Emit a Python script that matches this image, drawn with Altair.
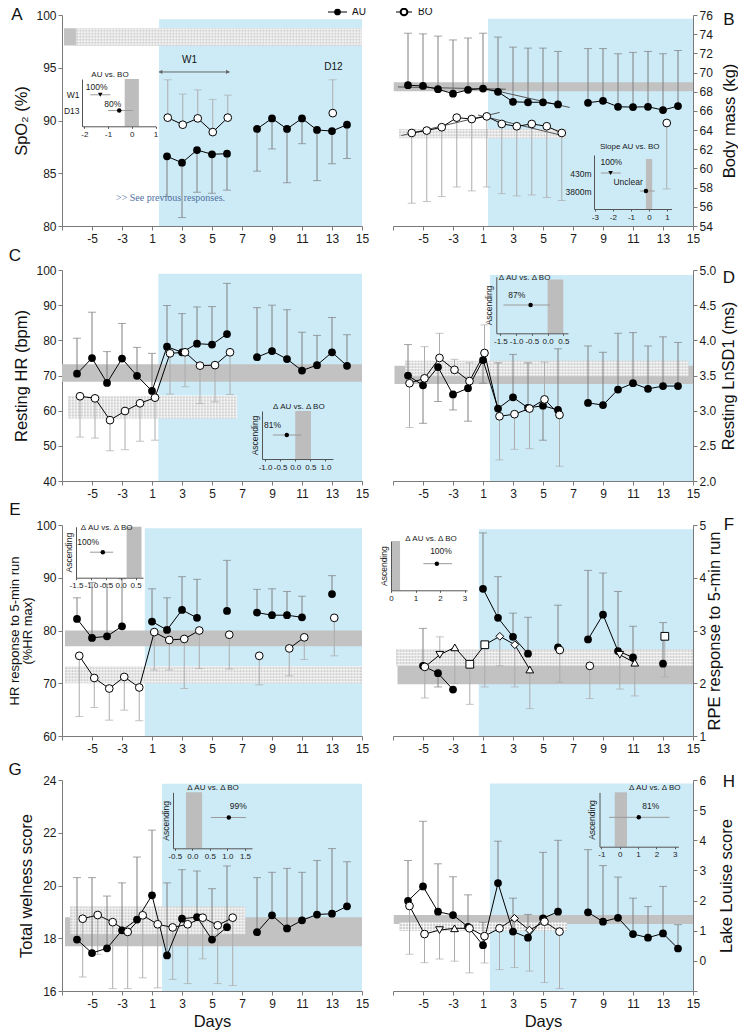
import altair as alt
import numpy as np
import pandas as pd

FONT = "Liberation Sans"
W, H = 300, 211
BLUE = "#cdebf7"
AU_BAND = "#c2c2c2"
BO_BAND = "#d0d0d0"
AU_ERR = "#7f7f7f"
BO_ERR = "#acacac"
AXC = "#7a7a7a"
LAB = "#1a1a1a"

X_TICKS = [-7, -5, -3, -1, 1, 3, 5, 7, 9, 11, 13]
XLABEL = "datum.value == -7 ? '' : '' + (datum.value >= -1 ? datum.value + 2 : datum.value)"

# ---------------- data (days as labelled on the axis) ----------------
A_au_day = [2, 3, 4, 5, 6, 8, 9, 10, 11, 12, 13, 14]
A_au_val = [86.6, 86.0, 87.2, 86.8, 86.85, 89.2, 90.2, 89.2, 90.2, 89.1, 89.0, 89.6]
A_au_err = [82.8, 80.8, 83.2, 83.1, 83.4, 85.2, 87.3, 84.1, 87.8, 84.3, 85.9, 86.4]
A_au_seg = [1, 1, 1, 1, 1, 2, 2, 2, 2, 2, 2, 2]
A_bo_day = [2, 3, 4, 5, 6, 13]
A_bo_val = [90.27, 89.6, 90.2, 88.9, 90.27, 90.7]
A_bo_err = [93.86, 92.5, 92.9, 92.0, 92.4, 93.86]
A_bo_seg = [1, 1, 1, 1, 1, 2]

B_au_day = [-6, -5, -4, -3, -2, 1, 2, 3, 4, 5, 6, 8, 9, 10, 11, 12, 13, 14]
B_au_val = [68.68, 68.6, 68.26, 67.8, 68.2, 68.33, 67.99, 66.95, 66.9, 66.9, 66.67, 66.85, 67.05, 66.43, 66.4, 66.43, 66.09, 66.5]
B_au_err = [74.1, 74.03, 73.8, 73.4, 73.6, 74.1, 73.7, 72.65, 72.55, 72.55, 72.2, 72.5, 72.5, 71.96, 72.1, 72.2, 71.96, 72.3]
B_au_seg = [1] * 11 + [2] * 7
B_bo_day = [-6, -5, -4, -3, -2, 1, 2, 3, 4, 5, 6, 13]
B_bo_val = [63.7, 63.95, 64.3, 65.3, 65.15, 65.43, 64.64, 64.4, 64.64, 64.4, 63.7, 64.74]
B_bo_err = [56.38, 56.55, 57.07, 58.07, 57.66, 58.07, 57.38, 57.14, 57.24, 56.97, 56.66, 57.87]
B_bo_seg = [1] * 11 + [2]
# regression lines (axis positions)
B_slope_x0 = [-6.67, -0.78, -6.44, -1.33]
B_slope_y0 = [68.5, 68.33, 63.43, 65.57]
B_slope_x1 = [0.51, 4.78, 0.11, 4.11]
B_slope_y1 = [68.26, 66.36, 65.84, 63.5]

C_au_day = [-6, -5, -4, -3, -2, 1, 2, 3, 4, 5, 6, 8, 9, 10, 11, 12, 13, 14]
C_au_val = [70.5, 74.95, 67.9, 74.8, 69.9, 65.6, 78.2, 76.6, 79.05, 78.8, 81.8, 75.2, 76.95, 74.66, 71.4, 72.95, 76.6, 72.76]
C_au_err = [80.6, 88.0, 76.8, 84.8, 78.0, 76.3, 89.9, 87.6, 89.5, 89.6, 96.2, 89.3, 90.0, 88.7, 82.3, 81.4, 86.5, 81.6]
C_au_seg = [1] * 11 + [2] * 7
C_bo_day = [-6, -5, -4, -3, -2, 1, 2, 3, 4, 5, 6]
C_bo_val = [64.1, 63.5, 57.3, 59.9, 62.1, 63.7, 76.3, 76.6, 72.8, 72.95, 76.6]
C_bo_err = [52.5, 52.2, 48.6, 48.9, 51.3, 51.6, 64.7, 66.8, 62.0, 62.5, 64.6]
C_bo_seg = [1] * 11

D_au_day = [-6, -5, -4, -3, -2, 1, 2, 3, 4, 5, 6, 8, 9, 10, 11, 12, 13, 14]
D_au_val = [3.50, 3.36, 3.62, 3.23, 3.32, 3.72, 3.03, 3.19, 3.04, 3.07, 3.01, 3.11, 3.08, 3.30, 3.39, 3.31, 3.35, 3.35]
D_au_err = [3.94, 2.82, 3.13, 3.01, 2.85, 3.39, 3.68, 3.80, 3.68, 2.58, 3.88, 3.92, 3.83, 4.10, 4.11, 3.92, 4.05, 3.97]
D_au_seg = [1] * 11 + [2] * 7
D_bo_day = [-6, -5, -4, -3, -2, 1, 2, 3, 4, 5, 6]
D_bo_val = [3.39, 3.46, 3.75, 3.58, 3.42, 3.82, 2.92, 2.95, 3.03, 3.16, 2.94]
D_bo_err = [2.76, 3.91, 4.10, 3.73, 3.68, 4.22, 2.30, 2.45, 2.46, 3.69, 2.21]
D_bo_seg = [1] * 11

E_au_day = [-6, -5, -4, -3, 1, 2, 3, 4, 6, 8, 9, 10, 11, 13]
E_au_val = [82.2, 78.6, 78.9, 80.8, 81.7, 80.1, 83.9, 82.4, 83.7, 83.4, 82.9, 82.9, 82.5, 86.9]
E_au_err = [86.2, 89.1, 88.8, 89.8, 87.9, 86.2, 90.2, 89.7, 93.3, 87.8, 87.9, 87.4, 86.5, 90.4]
E_au_seg = [1, 1, 1, 1, 2, 2, 2, 2, 3, 4, 4, 4, 4, 5]
E_bo_day = [-6, -5, -4, -3, -2, 1, 2, 3, 4, 6, 8, 10, 11, 13]
E_bo_val = [75.2, 71.0, 69.0, 71.2, 69.2, 79.7, 78.2, 78.4, 80.0, 79.2, 75.2, 76.6, 78.7, 82.4]
E_bo_err = [63.7, 65.4, 63.0, 64.9, 62.9, 72.5, 72.5, 69.0, 72.8, 72.7, 69.7, 71.4, 74.5, 75.2]
E_bo_seg = [1, 1, 1, 1, 1, 1, 1, 1, 1, 2, 3, 4, 4, 5]

F_au_day = [-5, -4, -3, 1, 2, 3, 4, 6, 8, 9, 10, 11, 13]
F_au_val = [2.33, 2.19, 1.88, 3.79, 3.24, 2.88, 2.56, 2.68, 2.83, 3.30, 2.61, 2.49, 2.37]
F_au_err = [3.04, 1.93, None, 4.85, 4.02, 3.33, 3.25, 3.48, 4.14, 4.09, 3.74, 3.08, 3.15]
F_au_seg = [1, 1, 1, 2, 2, 2, 2, 3, 4, 4, 4, 4, 5]
F_bo_day = [-5, -4, -3, -2, 1, 2, 3, 4, 6, 8, 10, 11, 13]
F_bo_val = [2.31, 2.54, 2.68, 2.36, 2.73, 2.89, 2.73, 2.26, 2.63, 2.33, 2.54, 2.39, 2.89]
F_bo_err = [1.72, 2.88, 2.0, 1.6, 1.93, 2.33, 1.93, 1.52, 2.02, 1.71, 1.89, 1.76, 2.12]
F_bo_seg = [1, 1, 1, 1, 1, 1, 1, 1, 2, 3, 4, 4, 5]
F_bo_shape = ["circle", "triangle-down", "triangle-up", "square", "square", "diamond", "diamond",
              "triangle-up", "circle", "circle", "triangle-down", "triangle-up", "square"]

G_au_day = [-6, -5, -4, -3, -2, 1, 2, 3, 4, 5, 6, 8, 9, 10, 11, 12, 13, 14]
G_au_val = [17.95, 17.44, 17.62, 18.30, 18.71, 19.63, 17.35, 18.74, 18.80, 17.95, 18.42, 18.23, 18.87, 18.37, 18.68, 18.90, 18.93, 19.21]
G_au_err = [20.3, 20.3, 19.6, 20.1, 21.08, 22.1, 20.1, 20.6, 20.55, 19.88, 20.74, 20.3, 20.5, 20.65, 20.5, 20.95, 21.4, 20.9]
G_au_seg = [1] * 11 + [2] * 7
G_bo_day = [-6, -5, -4, -3, -2, 1, 2, 3, 4, 5, 6]
G_bo_val = [18.74, 18.88, 18.61, 18.24, 18.87, 18.53, 18.41, 18.53, 18.78, 18.49, 18.78]
G_bo_err = [16.53, 17.39, 16.09, 16.09, 16.5, 16.12, 16.44, 16.28, 17.22, 16.28, 16.21]
G_bo_seg = [1] * 11

H_au_day = [-6, -5, -4, -3, -2, 1, 2, 3, 4, 5, 6, 8, 9, 10, 11, 12, 13, 14]
H_au_val = [1.99, 2.47, 1.63, 1.52, 1.13, 0.52, 2.58, 0.97, 0.77, 1.41, 1.63, 1.61, 1.30, 1.43, 0.89, 0.77, 0.91, 0.41]
H_au_err = [3.33, 4.63, 3.22, 2.79, 2.19, 1.28, 3.97, 2.08, 1.54, 3.6, 4.0, 3.69, 3.16, 2.78, 2.08, 1.8, 2.47, 1.2]
H_au_seg = [1] * 11 + [2] * 7
H_bo_day = [-6, -5, -4, -3, -2, 1, 2, 3, 4, 5, 6]
H_bo_val = [1.82, 0.89, 1.02, 1.08, 1.08, 0.82, 1.08, 1.41, 1.02, 1.30, 0.97]
H_bo_err = [0.22, -0.06, 0.06, -0.01, -0.4, -0.07, -0.29, -0.22, -0.34, -0.72, -0.92]
H_bo_seg = [1] * 11
H_bo_shape = ["circle", "circle", "triangle-down", "triangle-up", "circle", "circle", "circle",
              "diamond", "diamond", "circle", "circle"]

# inset (effect) values
A_in_est = [-1.33, -0.53]; A_in_lo = [-1.75, -1.0]; A_in_hi = [-0.9, 0.05]; A_in_pct = ["100%", "80%"]
B_in_est = [-2.13, -0.17]; B_in_lo = [-2.67, -0.5]; B_in_hi = [-1.56, 0.33]; B_in_pct = ["100%", "Unclear"]
C_in_est = [-0.28]; C_in_lo = [-0.74]; C_in_hi = [0.2]; C_in_pct = ["81%"]
D_in_est = [-0.54]; D_in_lo = [-1.4]; D_in_hi = [0.08]; D_in_pct = ["87%"]
E_in_est = [-0.6]; E_in_lo = [-1.03]; E_in_hi = [-0.25]; E_in_pct = ["100%"]
F_in_est = [1.87]; F_in_lo = [1.32]; F_in_hi = [2.49]; F_in_pct = ["100%"]
G_in_est = [1.04]; G_in_lo = [0.53]; G_in_hi = [1.53]; G_in_pct = ["99%"]
H_in_est = [1.04]; H_in_lo = [-0.58]; H_in_hi = [2.72]; H_in_pct = ["81%"]


def to_pos(days, shift=0.0):
    return [(d if d < 0 else d - 2) + shift for d in days]


def sdf(days, vals, errs, segs, shift=0.0, shapes=None):
    df = pd.DataFrame({"x": to_pos(days, shift), "y": vals,
                       "e": pd.array(errs, dtype="Float64").astype(float), "seg": segs})
    df["shape"] = shapes if shapes is not None else "circle"
    return df


def main_layers(p):
    side = p["side"]
    xs = alt.Scale(domain=[-7, 13], nice=False, zero=False)
    ys = alt.Scale(domain=p["ydom"], nice=False, zero=False)
    xax = alt.Axis(values=X_TICKS, labelExpr=XLABEL, title=("Days" if p["days"] else None),
                   titleFontSize=16.5, titleFontWeight="normal", titlePadding=4, labelFontSize=12,
                   tickSize=4, domainColor=AXC, tickColor=AXC, labelColor=LAB, labelPadding=3,
                   labelFlush=False, labelOverlap=False, grid=False, titleColor="#111")
    ykw = dict(orient=side, values=p["yticks"], title=p["ytitle"], titleFontSize=p.get("tfs", 16.5),
               titleFontWeight="normal", labelFontSize=12, tickSize=4, domainColor=AXC,
               tickColor=AXC, labelColor=LAB, labelPadding=2, titlePadding=p.get("tpad", 6),
               labelFlush=False, labelOverlap=False, grid=False, titleColor="#111")
    if "yfmt" in p:
        ykw["format"] = p["yfmt"]
    if "ylabexpr" in p:
        ykw["labelExpr"] = p["ylabexpr"]
    if side == "right":
        ykw.update(titleAngle=270, titleBaseline="top")
    if "tlh" in p:
        ykw["titleLineHeight"] = p["tlh"]
    yax = alt.Axis(**ykw)
    X = alt.X("x:Q", scale=xs, axis=xax)
    Y = alt.Y("y:Q", scale=ys, axis=yax)

    L = []
    blue = pd.DataFrame({"x": [p["blue"][0]], "x2": [13], "y": [p["ydom"][0]], "y2": [p["blue"][1]]})
    L.append(alt.Chart(blue).mark_rect(color=BLUE).encode(x=X, x2=alt.X2("x2"), y=Y, y2=alt.Y2("y2")))
    for band, col in ((p["au_band"], AU_BAND), (p["bo_band"], BO_BAND)):
        bd = pd.DataFrame({"x": [band[0]], "x2": [band[1]], "y": [band[2]], "y2": [band[3]]})
        L.append(alt.Chart(bd).mark_rect(color=col).encode(x=X, x2=alt.X2("x2"), y=Y, y2=alt.Y2("y2")))
    # fine white mesh that gives the BO band its hatched look
    bx0, bx1, by0, by1 = p["bo_band"]
    step_x = 3.0 * 20.0 / W
    step_y = 3.0 * (p["ydom"][1] - p["ydom"][0]) / H
    vx = np.arange(bx0 + step_x, bx1, step_x)
    hy = np.arange(by0 + step_y / 2, by1, step_y)
    vdf = pd.DataFrame({"x": vx, "y": by0, "y2": by1})
    hdf = pd.DataFrame({"x": bx0, "x2": bx1, "y": hy})
    L.append(alt.Chart(vdf).mark_rule(color="white", strokeWidth=1, opacity=0.75)
             .encode(x=X, y=Y, y2=alt.Y2("y2")))
    L.append(alt.Chart(hdf).mark_rule(color="white", strokeWidth=1, opacity=0.75)
             .encode(x=X, x2=alt.X2("x2"), y=Y))

    au, bo = p["au"], p["bo"]
    for df, col in ((au, AU_ERR), (bo, BO_ERR)):
        de = df[df["e"].notna()]
        caps = de.assign(y=de["e"])
        L.append(alt.Chart(de).mark_rule(color=col, strokeWidth=1).encode(x=X, y=Y, y2=alt.Y2("e")))
        L.append(alt.Chart(caps).mark_tick(orient="horizontal", color=col, size=8, thickness=1).encode(x=X, y=Y))
    for extra in p.get("under", []):
        L.append(extra(X, Y))
    L.append(alt.Chart(au).mark_line(color="black", strokeWidth=1).encode(x=X, y=Y, detail="seg:N"))
    L.append(alt.Chart(bo).mark_line(color="black", strokeWidth=1).encode(x=X, y=Y, detail="seg:N"))
    L.append(alt.Chart(au).mark_point(shape="circle", filled=True, color="black", size=60, opacity=1)
             .encode(x=X, y=Y))
    L.append(alt.Chart(bo).mark_point(filled=True, fill="white", stroke="black", strokeWidth=1, size=60, opacity=1)
             .encode(x=X, y=Y, shape=alt.Shape("shape:N", scale=None, legend=None)))
    for extra in p.get("over", []):
        L.append(extra(X, Y))
    lt = pd.DataFrame({"t": [p["letter"][0]]})
    L.append(alt.Chart(lt).mark_text(fontSize=17, font=FONT, color="#111", align="center", baseline="middle")
             .encode(x=alt.value(p["letter"][1]), y=alt.value(p["letter"][2]), text="t:N"))
    return alt.layer(*L)


def inset_layers(q):
    xs = alt.Scale(domain=q["xdom"], range=q["xrange"], nice=False, zero=False)
    ys = alt.Scale(domain=q["ydom"], range=q["yrange"], nice=False, zero=False)
    xax = alt.Axis(orient="bottom", offset=q["yrange"][0] - H, values=q["xticks"],
                   labelExpr="replace(format(datum.value, '%s'), '\u2212', '-')" % q["xfmt"],
                   title=None, labelFontSize=8, tickSize=2, labelPadding=2, domainColor="#555",
                   tickColor="#555", labelColor=LAB, labelFlush=False, labelOverlap=False, grid=False,
                   zindex=2)
    ykw = dict(orient="left", offset=-q["xrange"][0], values=q.get("yvals", []), labelFontSize=8.5,
               tickSize=0, labelPadding=3, domainColor="#555", labelColor=LAB, grid=False,
               title=q.get("ytitle"), titleFontSize=8.5, titleFontWeight="normal", titlePadding=3,
               titleColor=LAB, zindex=2)
    if "ylab" in q:
        ykw["labelExpr"] = q["ylab"]
    yax = alt.Axis(**ykw)
    X = alt.X("x:Q", scale=xs, axis=xax)
    Y = alt.Y("y:Q", scale=ys, axis=yax)
    b = q["band"]
    bd = pd.DataFrame({"x": [b[0]], "x2": [b[1]], "y": [q["ydom"][0]], "y2": [b[2]]})
    pts = pd.DataFrame({"x": q["est"], "y": q["yv"], "lo": q["lo"], "hi": q["hi"], "shape": q["shape"]})
    ci = pts.assign(x=pts["lo"])
    txt = pd.DataFrame({"x": q["tx"], "y": q["ty"], "t": q["pct"]})
    ttl = pd.DataFrame({"x": [q["title"][1]], "y": [q["title"][2]], "t": [q["title"][0]]})
    L = [
        alt.Chart(bd).mark_rect(color="#bdbdbd").encode(x=X, x2=alt.X2("x2"), y=Y, y2=alt.Y2("y2")),
        alt.Chart(ci).mark_rule(color="#9a9a9a", strokeWidth=1).encode(x=X, x2=alt.X2("hi"), y=Y),
        alt.Chart(pts).mark_point(filled=True, color="black", size=20, opacity=1)
        .encode(x=X, y=Y, shape=alt.Shape("shape:N", scale=None, legend=None)),
        alt.Chart(txt).mark_text(fontSize=8.5, font=FONT, color=LAB).encode(x=X, y=Y, text="t:N"),
        alt.Chart(ttl).mark_text(fontSize=8, font=FONT, color=LAB).encode(x=X, y=Y, text="t:N"),
    ]
    return alt.layer(*L)


def panel(p, q):
    return (alt.layer(main_layers(p), inset_layers(q))
            .resolve_scale(x="independent", y="independent")
            .properties(width=W, height=H))


# ---------------- extras ----------------
def a_arrow(X, Y):
    d = pd.DataFrame({"x": [-0.53], "x2": [4.16], "y": [94.6]})
    return alt.Chart(d).mark_rule(color="#666", strokeWidth=1).encode(x=X, x2=alt.X2("x2"), y=Y)


def a_heads(X, Y):
    d = pd.DataFrame({"x": [-0.43, 4.06], "y": [94.6, 94.6], "shape": ["triangle-left", "triangle-right"]})
    return (alt.Chart(d).mark_point(filled=True, color="#666", size=18, opacity=1)
            .encode(x=X, y=Y, shape=alt.Shape("shape:N", scale=None, legend=None)))


def a_text(X, Y):
    d = pd.DataFrame({"x": [1.5, 11.1], "y": [95.7, 95.05], "t": ["W1", "D12"]})
    return alt.Chart(d).mark_text(fontSize=10, font=FONT, color="#111").encode(x=X, y=Y, text="t:N")


def a_see(X, Y):
    d = pd.DataFrame({"x": [-3.4], "y": [82.7], "t": [">> See previous responses."]})
    return (alt.Chart(d).mark_text(fontSize=10, font="Liberation Serif", color="#4f6fa0", align="left")
            .encode(x=X, y=Y, text="t:N"))


def a_legend(X, Y):
    d = pd.DataFrame({"t": ["AU"]})
    return alt.layer(
        alt.Chart(d).mark_rule(color="black", strokeWidth=1).encode(x=alt.value(266), x2=alt.value(285), y=alt.value(-3)),
        alt.Chart(d).mark_point(filled=True, color="black", size=45, opacity=1).encode(x=alt.value(275.5), y=alt.value(-3)),
        alt.Chart(d).mark_text(fontSize=10, font=FONT, align="left", color="#111").encode(x=alt.value(290), y=alt.value(-3), text="t:N"),
    )


def b_legend(X, Y):
    d = pd.DataFrame({"t": ["BO"]})
    return alt.layer(
        alt.Chart(d).mark_rule(color="black", strokeWidth=1).encode(x=alt.value(3), x2=alt.value(19), y=alt.value(-3)),
        alt.Chart(d).mark_point(filled=True, fill="white", stroke="black", size=45, opacity=1).encode(x=alt.value(11), y=alt.value(-3)),
        alt.Chart(d).mark_text(fontSize=10, font=FONT, align="left", color="#111").encode(x=alt.value(25), y=alt.value(-3), text="t:N"),
    )


def b_slopes(X, Y):
    d = pd.DataFrame({"x": B_slope_x0, "y": B_slope_y0, "x2": B_slope_x1, "y2": B_slope_y1})
    return alt.Chart(d).mark_rule(color="#555", strokeWidth=1).encode(x=X, y=Y, x2=alt.X2("x2"), y2=alt.Y2("y2"))


# ---------------- panel specs ----------------
PA = dict(side="left", ydom=[80, 100], yticks=[80, 85, 90, 95, 100], ytitle="SpO\u2082 (%)", days=False,
          blue=(-0.53, 99.6), au_band=(-6.87, 13, 97.1, 98.74), bo_band=(-6.07, 13, 97.1, 98.74),
          au=sdf(A_au_day, A_au_val, A_au_err, A_au_seg),
          bo=sdf(A_bo_day, A_bo_val, A_bo_err, A_bo_seg, 0.05),
          letter=("A", -45, 0), over=[a_arrow, a_heads, a_text, a_see, a_legend])
QA = dict(xdom=[-2.1, 1.0], xrange=[20, 93.5], ydom=[0, 3], yrange=[111.3, 64], xticks=[-2, -1, 0, 1], xfmt="d",
          band=(-0.3, 0.3, 3), yvals=[1, 2], ylab="datum.value == 2 ? 'W1' : 'D13'",
          est=A_in_est, yv=[2, 1], lo=A_in_lo, hi=A_in_hi, shape=["triangle-down", "circle"],
          tx=[-1.48, -0.8], ty=[2.47, 1.41], pct=A_in_pct, title=("AU vs. BO", -0.92, 3.25))

PB = dict(side="right", ydom=[54, 76], yticks=list(range(54, 77, 2)), ytitle="Body mass (kg)", days=False,
          tpad=9,
          blue=(-0.67, 75.6), au_band=(-6.95, 13, 68.05, 69.0), bo_band=(-6.6, 4.55, 63.15, 64.12),
          au=sdf(B_au_day, B_au_val, B_au_err, B_au_seg),
          bo=sdf(B_bo_day, B_bo_val, B_bo_err, B_bo_seg, 0.25),
          letter=("B", 336, 5), under=[b_slopes], over=[b_legend])
QB = dict(xdom=[-3.05, 1.25], xrange=[201, 278.5], ydom=[0, 3], yrange=[194, 140], xticks=[-3, -2, -1, 0, 1],
          xfmt="d", band=(-0.17, 0.18, 2.78), yvals=[1, 2], ylab="datum.value == 2 ? '430m' : '3800m'",
          est=B_in_est, yv=[2, 1], lo=B_in_lo, hi=B_in_hi, shape=["triangle-down", "circle"],
          tx=[-2.09, -1.16], ty=[2.63, 1.52], pct=B_in_pct, title=("Slope AU vs. BO", -1.07, 3.43))

PC = dict(side="left", ydom=[40, 100], yticks=[40, 50, 60, 70, 80, 90, 100], ytitle="Resting HR (bpm)", days=False,
          blue=(-0.58, 98.9), au_band=(-7, 13, 68.2, 73.2), bo_band=(-6.58, 4.65, 57.8, 64.2),
          au=sdf(C_au_day, C_au_val, C_au_err, C_au_seg),
          bo=sdf(C_bo_day, C_bo_val, C_bo_err, C_bo_seg, 0.2),
          letter=("C", -47, -14))
QC = dict(xdom=[-1.1, 1.25], xrange=[200, 271], ydom=[0, 2], yrange=[189, 141], xticks=[-1, -0.5, 0, 0.5, 1],
          xfmt=".1f", band=(0.0, 0.52, 2), ytitle="Ascending",
          est=C_in_est, yv=[1], lo=C_in_lo, hi=C_in_hi, shape=["circle"],
          tx=[-0.75], ty=[1.42], pct=C_in_pct, title=("\u0394 AU vs. \u0394 BO", 0.12, 2.17))

PD = dict(side="right", ydom=[2.0, 5.0], yticks=[2.0, 2.5, 3.0, 3.5, 4.0, 4.5, 5.0], yfmt=".1f",
          ytitle="Resting LnSD1 (ms)", days=False, tpad=5,
          blue=(-0.54, 4.93), au_band=(-6.9, 13, 3.38, 3.64), bo_band=(-6.2, 12.7, 3.49, 3.71),
          au=sdf(D_au_day, D_au_val, D_au_err, D_au_seg),
          bo=sdf(D_bo_day, D_bo_val, D_bo_err, D_bo_seg, 0.1),
          letter=("D", 336, 8))
QD = dict(xdom=[-1.63, 0.65], xrange=[103.3, 175], ydom=[0, 2], yrange=[63.3, 6.7], xticks=[-1.5, -1, -0.5, 0, 0.5],
          xfmt=".1f", band=(0.0, 0.5, 1.9), ytitle="Ascending",
          est=D_in_est, yv=[1], lo=D_in_lo, hi=D_in_hi, shape=["circle"],
          tx=[-0.98], ty=[1.35], pct=D_in_pct, title=("\u0394 AU vs. \u0394 BO", -0.73, 1.95))

PE = dict(side="left", ydom=[60, 100], yticks=[60, 70, 80, 90, 100],
          ytitle=["HR response to 5-min run", "(%HR max)"], tfs=13, tlh=13, tpad=1, days=False,
          blue=(-1.48, 99.4), au_band=(-6.8, 13, 77.0, 80.0), bo_band=(-6.8, 13, 70.0, 73.2),
          au=sdf(E_au_day, E_au_val, E_au_err, E_au_seg),
          bo=sdf(E_bo_day, E_bo_val, E_bo_err, E_bo_seg, 0.15),
          letter=("E", -47, -15))
QE = dict(xdom=[-1.5, 0.75], xrange=[14, 81], ydom=[0, 2], yrange=[52.7, 1.7], xticks=[-1.5, -1, -0.5, 0, 0.5],
          xfmt=".1f", band=(0.2, 0.7, 2), ytitle="Ascending",
          est=E_in_est, yv=[1], lo=E_in_lo, hi=E_in_hi, shape=["circle"],
          tx=[-1.09], ty=[1.41], pct=E_in_pct, title=("\u0394 AU vs. \u0394 BO", -0.47, 1.95))

PF = dict(side="right", ydom=[1, 5], yticks=[1, 2, 3, 4, 5], ytitle="RPE response to 5-min run", days=False,
          tpad=1,
          blue=(-1.28, 4.92), au_band=(-6.7, 13, 1.98, 2.33), bo_band=(-6.8, 13, 2.33, 2.64),
          au=sdf(F_au_day, F_au_val, F_au_err, F_au_seg),
          bo=sdf(F_bo_day, F_bo_val, F_bo_err, F_bo_seg, 0.12, F_bo_shape),
          letter=("F", 336, 0))
QF = dict(xdom=[0, 3.1], xrange=[-2, 74], ydom=[0, 2], yrange=[65.3, 16], xticks=[0, 1, 2, 3],
          xfmt="d", band=(0.04, 0.37, 2), ytitle="Ascending",
          est=F_in_est, yv=[1.08], lo=F_in_lo, hi=F_in_hi, shape=["circle"],
          tx=[2.04], ty=[1.59], pct=F_in_pct, title=("\u0394 AU vs. \u0394 BO", 1.63, 2.1))

PG = dict(side="left", ydom=[16, 24], yticks=[16, 18, 20, 22, 24], ytitle="Total welness score", days=True,
          tpad=8,
          blue=(-0.33, 23.86), au_band=(-6.8, 13, 17.7, 18.8), bo_band=(-6.46, 5.22, 18.15, 19.2),
          au=sdf(G_au_day, G_au_val, G_au_err, G_au_seg),
          bo=sdf(G_bo_day, G_bo_val, G_bo_err, G_bo_seg, 0.38),
          letter=("G", -47, -10))
QG = dict(xdom=[-0.55, 1.7], xrange=[111, 190], ydom=[0, 2], yrange=[68.3, 12.3], xticks=[-0.5, 0, 0.5, 1, 1.5],
          xfmt=".1f", band=(-0.18, 0.28, 2), ytitle="Ascending",
          est=G_in_est, yv=[1.1], lo=G_in_lo, hi=G_in_hi, shape=["circle"],
          tx=[1.31], ty=[1.5], pct=G_in_pct, title=("\u0394 AU vs. \u0394 BO", 0.59, 2.15))

PH = dict(side="right", ydom=[-1, 6], yticks=[-1, 0, 1, 2, 3, 4, 5, 6],
          ylabexpr="datum.value == -1 ? '' : datum.label", ytitle="Lake Louise score", days=True, tpad=13,
          blue=(-0.54, 5.88), au_band=(-6.95, 13, 1.22, 1.52), bo_band=(-6.57, 4.6, 0.99, 1.28),
          au=sdf(H_au_day, H_au_val, H_au_err, H_au_seg),
          bo=sdf(H_bo_day, H_bo_val, H_bo_err, H_bo_seg, 0.1, H_bo_shape),
          letter=("H", 336, 2))
QH = dict(xdom=[-1.1, 3.2], xrange=[206.5, 285.4], ydom=[0, 2], yrange=[66.7, 12.3], xticks=[-1, 0, 1, 2, 3],
          xfmt="d", band=(-0.27, 0.4, 2), ytitle="Ascending",
          est=H_in_est, yv=[1.08], lo=H_in_lo, hi=H_in_hi, shape=["circle"],
          tx=[1.69], ty=[1.49], pct=H_in_pct, title=("\u0394 AU vs. \u0394 BO", 1.91, 2.16))

panels = [panel(PA, QA), panel(PB, QB), panel(PC, QC), panel(PD, QD),
          panel(PE, QE), panel(PF, QF), panel(PG, QG), panel(PH, QH)]

chart = (
    alt.concat(*panels, columns=2, spacing={"row": 44, "column": 31}, bounds="flush")
    .properties(padding={"left": 0, "top": -4, "right": 0, "bottom": 0})
    .configure(font=FONT)
    .configure_view(stroke=None)
)

chart.save("out.html", embed_options={"renderer": "svg", "actions": False})
